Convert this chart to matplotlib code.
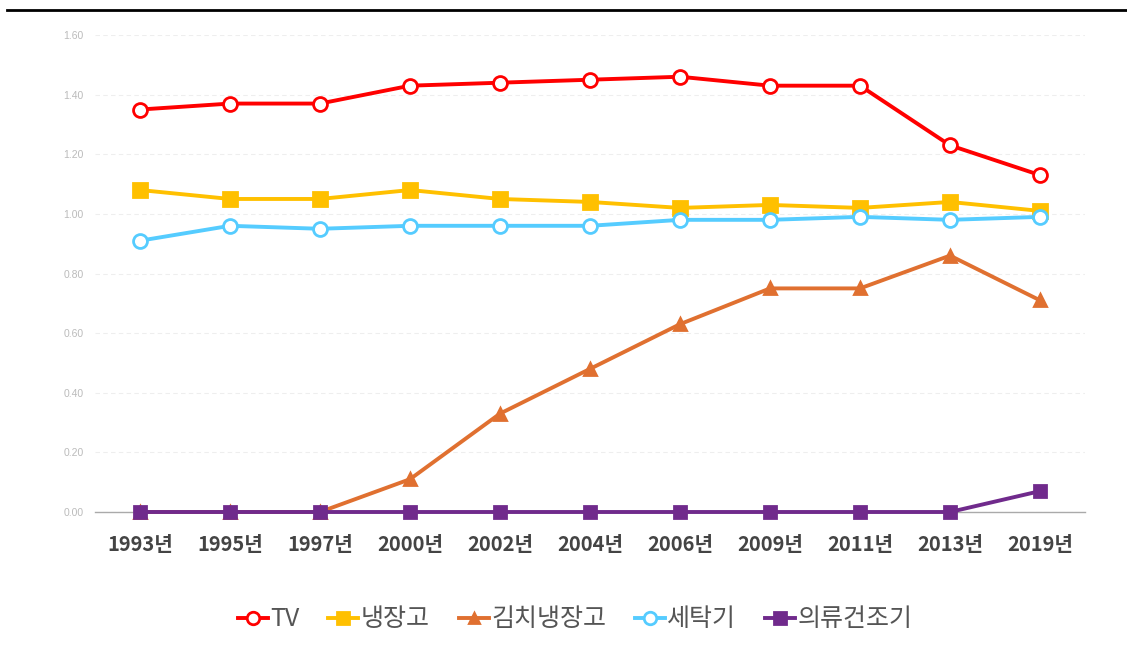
import matplotlib
matplotlib.use('Agg')
import matplotlib.pyplot as plt
from matplotlib.lines import Line2D

plt.rcParams['font.family'] = ['Noto Sans CJK KR', 'DejaVu Sans']

years = ['1993년', '1995년', '1997년', '2000년', '2002년', '2004년',
         '2006년', '2009년', '2011년', '2013년', '2019년']
tv = [1.35, 1.37, 1.37, 1.43, 1.44, 1.45, 1.46, 1.43, 1.43, 1.23, 1.13]
fridge = [1.08, 1.05, 1.05, 1.08, 1.05, 1.04, 1.02, 1.03, 1.02, 1.04, 1.01]
kimchi = [0, 0, 0, 0.11, 0.33, 0.48, 0.63, 0.75, 0.75, 0.86, 0.71]
washer = [0.91, 0.96, 0.95, 0.96, 0.96, 0.96, 0.98, 0.98, 0.99, 0.98, 0.99]
dryer = [0, 0, 0, 0, 0, 0, 0, 0, 0, 0, 0.07]

# name, values, color, marker, face, size
series = [
    ('TV', tv, '#ff0000', 'o', 'white', 10),
    ('냉장고', fridge, '#ffc000', 's', '#ffc000', 9.5),
    ('김치냉장고', kimchi, '#e07030', '^', '#e07030', 8),
    ('세탁기', washer, '#55ccff', 'o', 'white', 10),
    ('의류건조기', dryer, '#702a8c', 's', '#702a8c', 9),
]

fig = plt.figure(figsize=(11.27, 6.56), dpi=100)
ax = fig.add_axes([95 / 1127, 1 - 512 / 656, 990 / 1127, 477 / 656])

x = list(range(len(years)))
for name, vals, color, marker, face, ms in series:
    ax.plot(x, vals, color=color, linewidth=2.8, marker=marker, markersize=ms,
            markerfacecolor=face, markeredgecolor=color, markeredgewidth=2,
            label=name, zorder=3, clip_on=False)

ax.set_xlim(-0.5, len(years) - 0.5)
ax.set_ylim(0, 1.6)
ax.set_yticks([0, 0.2, 0.4, 0.6, 0.8, 1.0, 1.2, 1.4, 1.6])
ax.set_yticklabels([f'{v:.2f}' for v in ax.get_yticks()], fontsize=7.5,
                   color='#bbbbbb', family='Liberation Sans')
ax.set_xticks(x)
ax.set_xticklabels(years, fontsize=14.5, fontweight='bold', color='#444444')
ax.tick_params(axis='both', length=0)
ax.tick_params(axis='x', pad=16)
ax.tick_params(axis='y', pad=8)

ax.grid(axis='y', linestyle=(0, (4, 3)), color='#eeeeee', linewidth=0.8)
for s in ['top', 'right', 'left']:
    ax.spines[s].set_visible(False)
ax.spines['bottom'].set_color('#aaaaaa')
ax.spines['bottom'].set_linewidth(1)

ax.legend(loc='center', bbox_to_anchor=(0.485, -0.225), ncol=5, frameon=False,
          prop={'size': 18, 'weight': 'light'}, handlelength=1.2,
          handletextpad=0.1, columnspacing=1.15,
          labelcolor='#555555', markerscale=0.9)

fig.add_artist(Line2D([7 / 1127, 1], [1 - 10 / 656, 1 - 10 / 656],
                      color='black', linewidth=2, transform=fig.transFigure))

fig.savefig('out.png', dpi=100)
